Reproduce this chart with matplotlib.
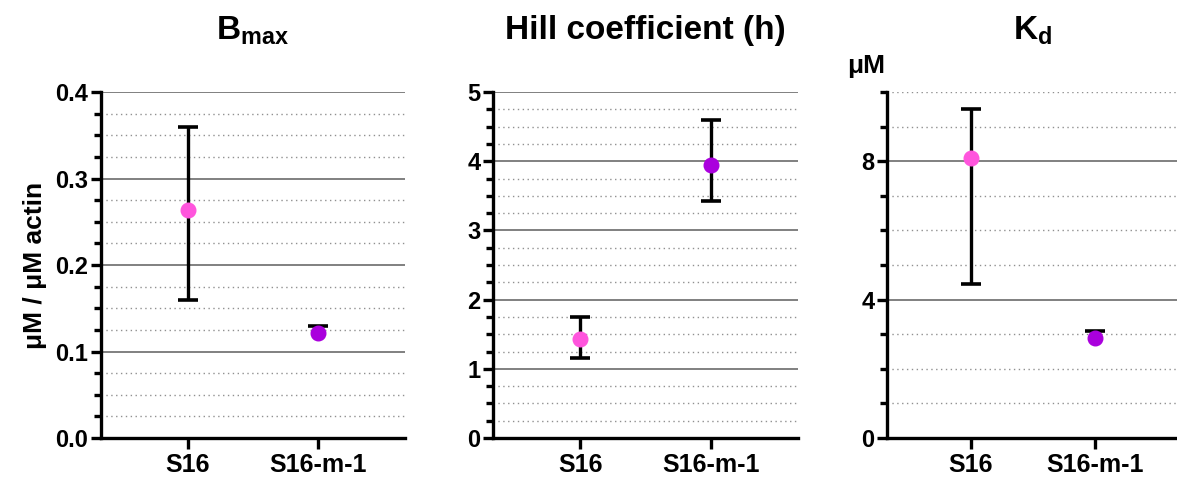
import numpy as np
import matplotlib.pyplot as plt
from matplotlib.ticker import MultipleLocator

plt.rcParams['font.family'] = ['Liberation Sans', 'DejaVu Sans']
plt.rcParams['font.weight'] = 'bold'
plt.rcParams['mathtext.fontset'] = 'custom'
plt.rcParams['mathtext.rm'] = 'Liberation Sans:bold'
plt.rcParams['mathtext.bf'] = 'Liberation Sans:bold'

# группы
groups = ['S16', 'S16-m-1']
colors = ['#ff55dd', '#aa00dd']

# Bmax, мкМ / мкМ актина (нижняя граница None - ус не рисуется)
bmax = [0.264, 0.121]
bmax_lo = [0.160, None]
bmax_hi = [0.360, 0.130]

# коэффициент Хилла
hill = [1.43, 3.95]
hill_lo = [1.15, 3.42]
hill_hi = [1.75, 4.60]

# Kd, мкМ
kd = [8.1, 2.9]
kd_lo = [4.45, None]
kd_hi = [9.5, 3.1]

panels = [
    dict(vals=bmax, lo=bmax_lo, hi=bmax_hi, ylim=0.4, major=0.1, minor=0.025,
         fmt='{:.1f}', title=r'$\mathbf{B}_{\mathbf{max}}$',
         pos=[0.0858, 0.0856, 0.2583, 0.7223]),
    dict(vals=hill, lo=hill_lo, hi=hill_hi, ylim=5, major=1, minor=0.25,
         fmt='{:.0f}', title='Hill coefficient (h)',
         pos=[0.4189, 0.0856, 0.2591, 0.7223]),
    dict(vals=kd, lo=kd_lo, hi=kd_hi, ylim=10, major=4, minor=1,
         fmt='{:.0f}', title=r'$\mathbf{K}_{\mathbf{d}}$',
         pos=[0.7536, 0.0856, 0.2480, 0.7223]),
]

fig = plt.figure(figsize=(11.77, 4.79), dpi=100)

for p in panels:
    ax = fig.add_axes(p['pos'])
    x = np.arange(len(groups))

    # усы погрешностей: стержень и засечки
    for xi, vi, lo, hi in zip(x, p['vals'], p['lo'], p['hi']):
        bottom = vi if lo is None else lo
        ax.vlines(xi, bottom, hi, color='black', linewidth=2.4, zorder=3)
        ends = [hi] if lo is None else [lo, hi]
        ax.plot([xi] * len(ends), ends, '_', color='black', markersize=15,
                markeredgewidth=2.6, zorder=3)
    for xi, vi, c in zip(x, p['vals'], colors):
        ax.plot(xi, vi, 'o', color=c, markersize=10.5, zorder=4)

    ax.set_xlim(-0.67, 1.67)
    ax.set_ylim(0, p['ylim'])
    ax.set_xticks(x)
    ax.set_xticklabels(groups, fontsize=18, fontweight='bold')
    ax.yaxis.set_major_locator(MultipleLocator(p['major']))
    ax.yaxis.set_minor_locator(MultipleLocator(p['minor']))
    ax.set_yticklabels([p['fmt'].format(t) for t in ax.get_yticks()],
                       fontsize=17, fontweight='bold')

    # сетка: сплошные основные и пунктирные вспомогательные линии
    ax.grid(which='major', axis='y', color='#808080', linewidth=1.4)
    ax.grid(which='minor', axis='y', color='#909090', linewidth=1.0,
            linestyle=(0, (1, 2.5)))
    ax.set_axisbelow(True)

    for s in ['top', 'right']:
        ax.spines[s].set_visible(False)
    for s in ['left', 'bottom']:
        ax.spines[s].set_linewidth(2.4)
    ax.tick_params(axis='y', which='major', length=7, width=2.4, pad=2)
    ax.tick_params(axis='y', which='minor', length=5, width=2.4)
    ax.tick_params(axis='x', which='major', length=8, width=2.4, pad=3)
    ax.tick_params(axis='x', which='minor', length=0)

    ax.set_title(p['title'], fontsize=24, fontweight='bold', pad=38)
    p['ax'] = ax

panels[0]['ax'].set_ylabel('μM / μM actin', fontsize=19, fontweight='bold',
                           labelpad=6)
panels[2]['ax'].text(-0.07, 1.04, 'μM', transform=panels[2]['ax'].transAxes,
                     fontsize=19, fontweight='bold', ha='center', va='bottom')

fig.savefig('out.png', dpi=100)
